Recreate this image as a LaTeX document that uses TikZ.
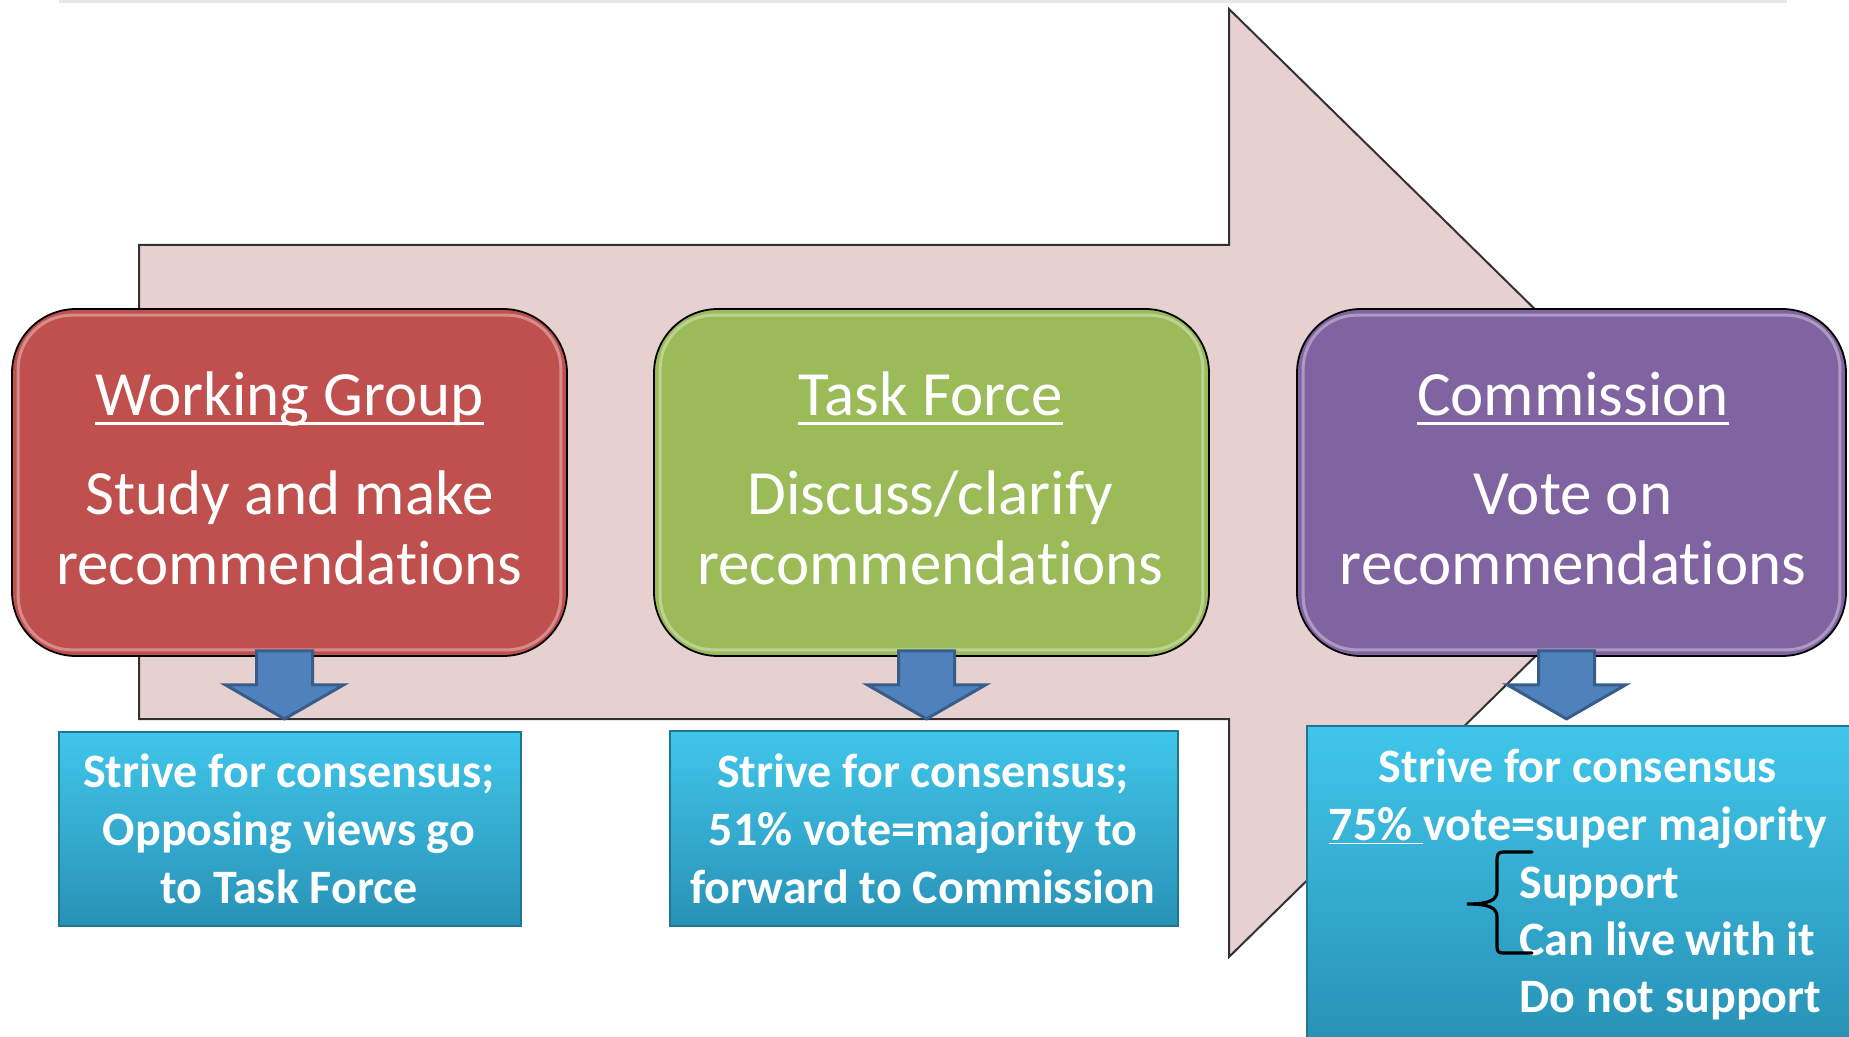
\documentclass[tikz,border=0pt]{standalone}
\usepackage{fontspec}
\setmainfont{Carlito}[Ligatures=NoCommon]
\usetikzlibrary{calc}
\newcommand{\tibreak}{\kern0pt{}}
\definecolor{arrowpink}{RGB}{230,208,208}
\definecolor{arrowedge}{RGB}{50,50,50}
\definecolor{wgred}{RGB}{192,80,77}
\definecolor{tfgreen}{RGB}{155,187,89}
\definecolor{cmpurple}{RGB}{128,100,162}
\definecolor{bluefill}{RGB}{79,129,189}
\definecolor{blueedge}{RGB}{56,93,138}
\definecolor{cyantop}{RGB}{64,198,234}
\definecolor{cyanbot}{RGB}{40,146,182}
\definecolor{topline}{RGB}{232,232,232}
\begin{document}
\begin{tikzpicture}[x=0.5pt,y=-0.5pt,
  stagebox/.style={draw=black, line width=0.9pt, rounded corners=32pt, inner sep=0pt, minimum height=173.5pt},
  gloss/.style={draw=white, draw opacity=0.35, line width=1.5pt, rounded corners=27pt},
  votebox/.style={draw=cyanbot!80!black, line width=0.6pt, top color=cyantop, bottom color=cyanbot, inner sep=0pt},
  titletext/.style={text=white, inner sep=0pt, font=\fontsize{31.5pt}{35pt}\selectfont},
  bodytext/.style={text=white, inner sep=0pt, align=center, font=\fontsize{31.5pt}{35pt}\selectfont},
  votetext/.style={text=white, inner sep=0pt, align=center, font=\bfseries\fontsize{24pt}{29pt}\selectfont},
  listtext/.style={text=white, inner sep=0pt, align=left, font=\bfseries\fontsize{24pt}{28.5pt}\selectfont},
  uline/.style={draw=white, line width=1.5pt},
  downarrow/.style={fill=bluefill, draw=blueedge, line width=1.5pt, line join=miter},
  bigarrow/.style={fill=arrowpink, draw=arrowedge, line width=1pt}]
\useasboundingbox (0,0) rectangle (1849,1037);
\fill[topline] (59,0) rectangle (1787,3);
% big background arrow
\draw[bigarrow] (139,245) -- (1229,245) -- (1229,9) -- (1712,483) -- (1229,957) -- (1229,719) -- (139,719) -- cycle;
% stage boxes
\node[stagebox, fill=wgred, minimum width=277.5pt] (wg) at (289.5,482.5) {};
\node[stagebox, fill=tfgreen, minimum width=277.5pt] (tf) at (931.5,482.5) {};
\node[stagebox, fill=cmpurple, minimum width=274.5pt] (cm) at (1571.5,482.5) {};
\foreach \b in {wg,tf,cm} {
  \draw[gloss] ($(\b.south west)+(7,-7)$) rectangle ($(\b.north east)+(-7,7)$);
}
% titles
\node[titletext, anchor=base] (wgtitle) at (289.5,416) {Working Group};
\node[titletext, anchor=base] (tftitle) at (930.5,416) {Task Force};
\node[titletext, anchor=base] (cmtitle) at (1573,416) {Commission};
\foreach \t in {wgtitle,tftitle,cmtitle} {
  \draw[uline] ($(\t.base west)+(0,8)$) -- ($(\t.base east)+(0,8)$);
}
\node[bodytext, anchor=base] (wgbody) at (289.5,585) {Study and make\\recommendat\tibreak ions};
\node[bodytext, anchor=base] (tfbody) at (930.5,585) {Discuss/clarify\\recommendat\tibreak ions};
\node[bodytext, anchor=base] (cmbody) at (1573,585) {Vote on\\recommendat\tibreak ions};
% vote boxes
\node[votebox, minimum width=231pt, minimum height=97pt] (wgvote) at (290,829) {};
\node[votebox, minimum width=254pt, minimum height=97.5pt] (tfvote) at (924,828.5) {};
\node[votebox, minimum width=272.5pt, minimum height=157pt] (cmvote) at (1579.5,883) {};
% down arrows
\foreach \b in {wg,tf,cm} {
  \draw[downarrow] ($(\b.south)+(-33,-6)$) -- ++(56,0) -- ++(0,34) -- ++(31,0) -- ++(-59,34) -- ++(-59,-34) -- ++(31,0) -- cycle;
}
% vote texts
\node[votetext, anchor=base] (wgvtext) at (289,903) {Strive for consensus;\\Opposing views go\\to Task Force};
\node[votetext, anchor=base] (tfvtext) at (923,903) {Strive for consensus;\\51\% vote=majority to\\forward to Commission};
\node[votetext, anchor=base, font=\bfseries\fontsize{24pt}{28.5pt}\selectfont] (cmvtext) at (1578,840) {Strive for consensus\\\underline{75\%\ }vote=super majority};
\node[listtext, anchor=base west] (cmlist) at (1519,1012) {Support\\Can live with it\\Do not support};
% brace
\draw[black, line width=1.6pt, line cap=round] (1532,852) -- (1503,852) .. controls (1498,852) and (1497,855) .. (1497,860) -- (1497,891) .. controls (1497,900) and (1490,904) .. (1467,904) .. controls (1490,904) and (1497,908) .. (1497,917) -- (1497,946) .. controls (1497,951) and (1498,953) .. (1503,953) -- (1532,953);
\end{tikzpicture}
\end{document}
